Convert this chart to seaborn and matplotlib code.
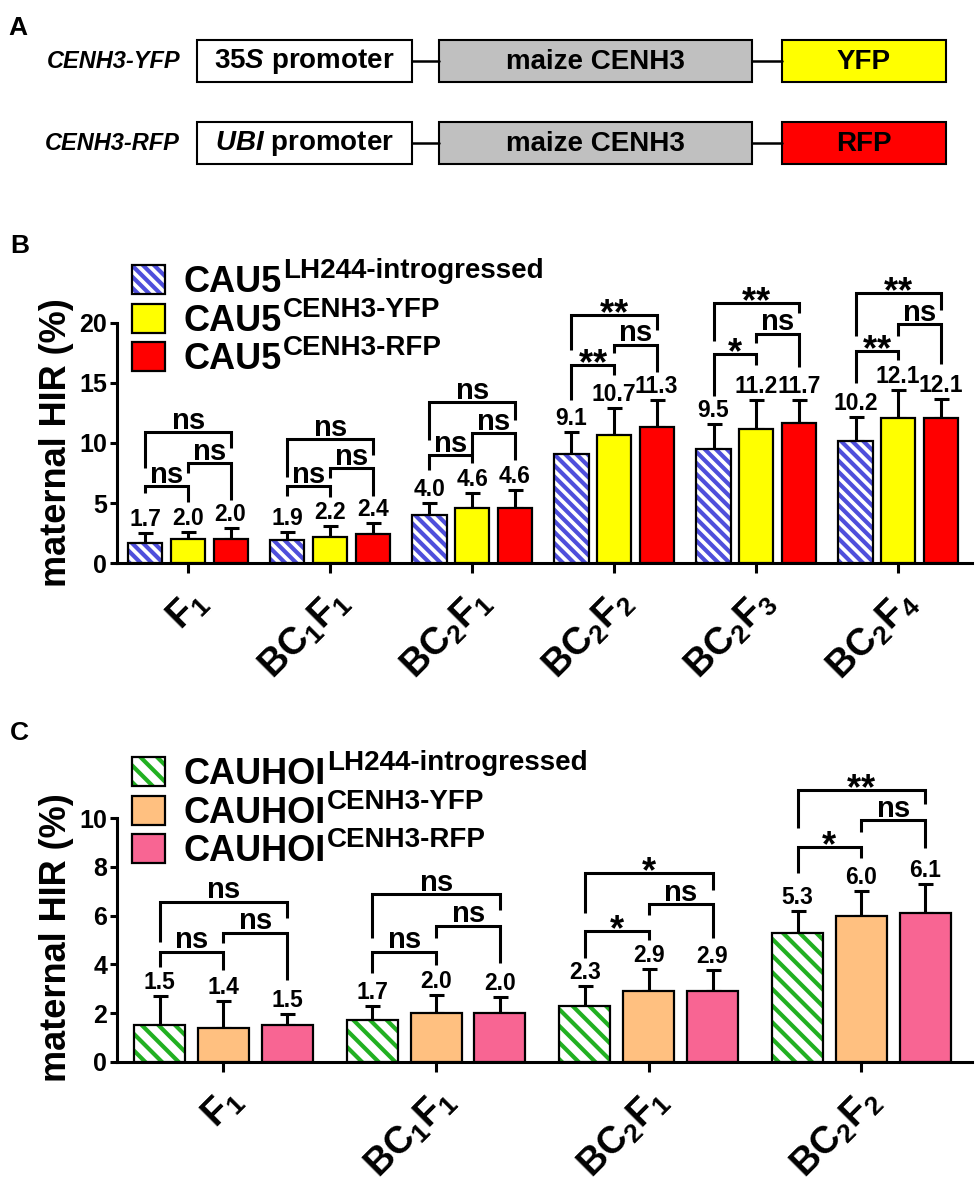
import numpy as np
import pandas as pd
import matplotlib
matplotlib.use('Agg')
import matplotlib.pyplot as plt
import seaborn as sns
from matplotlib.patches import Patch, Rectangle
from matplotlib.container import BarContainer
from matplotlib.legend_handler import HandlerTuple
from matplotlib.font_manager import FontProperties

sns.set_theme(style='ticks')
plt.rcParams['font.family'] = ['Liberation Sans', 'DejaVu Sans']
plt.rcParams['font.weight'] = 'bold'
plt.rcParams['text.color'] = 'black'
plt.rcParams['axes.labelcolor'] = 'black'
plt.rcParams['xtick.color'] = 'black'
plt.rcParams['ytick.color'] = 'black'
plt.rcParams['xtick.labelcolor'] = 'black'
plt.rcParams['ytick.labelcolor'] = 'black'
plt.rcParams['mathtext.fontset'] = 'custom'
plt.rcParams['mathtext.rm'] = 'Liberation Sans'
plt.rcParams['mathtext.bf'] = 'Liberation Sans:bold'
plt.rcParams['mathtext.it'] = 'Liberation Sans:italic:bold'
plt.rcParams['hatch.linewidth'] = 3.0

# ---------------- data ----------------
# Panel B
gens_B = ['F1', 'BC1F1', 'BC2F1', 'BC2F2', 'BC2F3', 'BC2F4']
ticks_B = [r'$\mathbf{F}_{1}$', r'$\mathbf{BC}_{1}\mathbf{F}_{1}$', r'$\mathbf{BC}_{2}\mathbf{F}_{1}$',
           r'$\mathbf{BC}_{2}\mathbf{F}_{2}$', r'$\mathbf{BC}_{2}\mathbf{F}_{3}$', r'$\mathbf{BC}_{2}\mathbf{F}_{4}$']
series_B = ['CAU5 LH244-introgressed', 'CAU5 CENH3-YFP', 'CAU5 CENH3-RFP']
legend_base_B = ['CAU5', 'CAU5', 'CAU5']
legend_sup_B = ['LH244-introgressed', 'CENH3-YFP', 'CENH3-RFP']
intro_B = [1.7, 1.9, 4.0, 9.1, 9.5, 10.2]
yfp_B = [2.0, 2.2, 4.6, 10.7, 11.2, 12.1]
rfp_B = [2.0, 2.4, 4.6, 11.3, 11.7, 12.1]
err_intro_B = [0.8, 0.7, 1.0, 1.8, 2.1, 2.0]
err_yfp_B = [0.6, 0.9, 1.2, 2.2, 2.4, 2.3]
err_rfp_B = [0.9, 0.9, 1.5, 2.3, 1.9, 1.6]
# significance: pairs (0-1), (1-2), (0-2)
sig_B = [['ns', 'ns', 'ns'], ['ns', 'ns', 'ns'], ['ns', 'ns', 'ns'],
         ['**', 'ns', '**'], ['*', 'ns', '**'], ['**', 'ns', '**']]
# bracket levels: (bar level, left leg end, right leg end)
brk_B = [[(6.4, 5.8, 5.1), (8.3, 7.5, 5.25), (10.9, 7.9, 9.6)],
         [(6.4, 5.6, 5.5), (7.9, 7.05, 5.6), (10.3, 7.2, 9.0)],
         [(9.0, 7.75, 8.3), (10.8, 9.1, 8.6), (13.4, 10.25, 11.9)],
         [(16.5, 13.6, 15.7), (18.2, 17.5, 15.9), (20.7, 17.75, 19.4)],
         [(17.4, 13.9, 16.5), (19.1, 18.3, 16.3), (21.7, 18.5, 20.8)],
         [(17.7, 15.0, 16.9), (19.9, 18.9, 16.6), (22.5, 18.9, 21.1)]]

# Panel C
gens_C = ['F1', 'BC1F1', 'BC2F1', 'BC2F2']
ticks_C = [r'$\mathbf{F}_{1}$', r'$\mathbf{BC}_{1}\mathbf{F}_{1}$', r'$\mathbf{BC}_{2}\mathbf{F}_{1}$',
           r'$\mathbf{BC}_{2}\mathbf{F}_{2}$']
series_C = ['CAUHOI LH244-introgressed', 'CAUHOI CENH3-YFP', 'CAUHOI CENH3-RFP']
legend_base_C = ['CAUHOI', 'CAUHOI', 'CAUHOI']
legend_sup_C = ['LH244-introgressed', 'CENH3-YFP', 'CENH3-RFP']
intro_C = [1.5, 1.7, 2.3, 5.3]
yfp_C = [1.4, 2.0, 2.9, 6.0]
rfp_C = [1.5, 2.0, 2.9, 6.1]
err_intro_C = [1.2, 0.6, 0.8, 0.9]
err_yfp_C = [1.1, 0.75, 0.9, 1.0]
err_rfp_C = [0.45, 0.65, 0.85, 1.2]
sig_C = [['ns', 'ns', 'ns'], ['ns', 'ns', 'ns'], ['*', 'ns', '*'], ['*', 'ns', '**']]
brk_C = [[(4.52, 3.9, 3.77), (5.3, 4.87, 3.36), (6.58, 4.93, 5.9)],
         [(4.52, 3.63, 3.97), (5.58, 5.07, 4.07), (6.88, 5.1, 6.23)],
         [(5.37, 4.25, 5.0), (6.47, 6.03, 5.1), (7.77, 6.1, 7.06)],
         [(8.84, 7.74, 8.36), (9.93, 9.45, 8.77), (11.17, 9.59, 10.6)]]

# Panel A
constructs = ['CENH3-YFP', 'CENH3-RFP']
promoters = [r'$\mathit{35S}$ promoter', r'$\mathit{UBI}$ promoter']
gene_label = 'maize CENH3'
tags = ['YFP', 'RFP']
tag_colors = ['#ffff00', '#ff0000']

W, H = 975, 1183
fig = plt.figure(figsize=(W / 100, H / 100), dpi=100)


def fx(px):
    return px / W


def fy(py):
    return 1 - py / H


def sig_text(lab):
    if lab == 'ns':
        return r'$\mathbf{ns}$'
    return '$' + ''.join(r'\mathbf{{*}}' for _ in lab) + '$'


# ---------------- Panel A ----------------
axA = fig.add_axes([0, fy(190), 1, 190 / H])
axA.set_xlim(0, W)
axA.set_ylim(190, 0)
axA.axis('off')
rows_y = [(40, 82), (122, 164)]
boxes_x = [(197, 412), (439, 752), (782, 946)]
for r, (y0, y1) in enumerate(rows_y):
    cols = ['white', '#c0c0c0', tag_colors[r]]
    texts = [promoters[r], gene_label, tags[r]]
    for b, (x0, x1) in enumerate(boxes_x):
        axA.add_patch(Rectangle((x0, y0), x1 - x0, y1 - y0, facecolor=cols[b],
                                edgecolor='black', lw=1.5))
        axA.text((x0 + x1) / 2, (y0 + y1) / 2 + 1, texts[b], ha='center', va='center',
                 fontsize=20, weight='bold', color='black')
    ym = (y0 + y1) / 2
    axA.plot([boxes_x[0][1], boxes_x[1][0]], [ym, ym], color='black', lw=1.8)
    axA.plot([boxes_x[1][1], boxes_x[2][0]], [ym, ym], color='black', lw=1.8)
    axA.text(180, ym + 1, constructs[r], ha='right', va='center', fontsize=17,
             weight='bold', style='italic', color='black')

fig.text(fx(8), fy(35), 'A', fontsize=19, weight='bold', va='baseline')
fig.text(fx(10), fy(253), 'B', fontsize=19, weight='bold', va='baseline')
fig.text(fx(10), fy(740), 'C', fontsize=19, weight='bold', va='baseline')


def draw_panel(ax, gens, ticks, series, means, errs, colors, hatch_color, hatch,
               sig, brk, ylim, yticks, leg_base, leg_sup, leg_top, ylabel_y):
    rows = []
    for s, vals in zip(series, means):
        for g, v in zip(gens, vals):
            rows.append({'gen': g, 'line': s, 'hir': v})
    df = pd.DataFrame(rows)
    sns.barplot(data=df, x='gen', y='hir', hue='line', order=gens, hue_order=series,
                palette=colors, errorbar=None, width=0.9, gap=0.2, edgecolor='black',
                linewidth=1.6, saturation=1, legend=False, ax=ax, zorder=3)
    conts = [c for c in ax.containers if isinstance(c, BarContainer)]
    centers = []
    for ci, cont in enumerate(conts):
        xs = [b.get_x() + b.get_width() / 2 for b in cont]
        centers.append(xs)
        tops = [b.get_height() for b in cont]
        ax.errorbar(xs, tops, yerr=[np.zeros(len(xs)), errs[ci]], fmt='none',
                    ecolor='black', elinewidth=2.2, capsize=5.4, capthick=2.2, zorder=2)
        for x, t, e in zip(xs, tops, errs[ci]):
            ax.annotate(f'{t:.1f}', xy=(x, t + e), xytext=(0, 1.5), textcoords='offset points',
                        ha='center', va='bottom', fontsize=16.5, weight='bold',
                        annotation_clip=False)
        if ci == 0:
            for b in cont:
                b.set_facecolor('white')
                b.set_edgecolor(hatch_color)
                b.set_hatch(hatch)
                b.set_linewidth(0)
                ax.add_patch(Rectangle(b.get_xy(), b.get_width(), b.get_height(), fill=False,
                                       edgecolor='black', lw=1.6, zorder=3.5))
    pairs = [(0, 1), (1, 2), (0, 2)]
    for gi in range(len(gens)):
        for pi, (i, j) in enumerate(pairs):
            h, lb, rb = brk[gi][pi]
            x1, x2 = centers[i][gi], centers[j][gi]
            ax.plot([x1, x1, x2, x2], [lb, h, h, rb], color='black', lw=2.2, clip_on=False,
                    solid_joinstyle='miter', solid_capstyle='butt', zorder=4)
            lab = sig[gi][pi]
            if lab == 'ns':
                ax.annotate(sig_text(lab), xy=((x1 + x2) / 2, h), xytext=(0, 2.5),
                            textcoords='offset points', ha='center', va='baseline',
                            fontsize=21, annotation_clip=False)
            else:
                ax.annotate(sig_text(lab), xy=((x1 + x2) / 2, h), xytext=(0, -6),
                            textcoords='offset points', ha='center', va='baseline',
                            fontsize=26, annotation_clip=False)
    ax.set_xlim(-0.5, len(gens) - 0.48)
    ax.set_ylim(*ylim)
    ax.set_yticks(yticks)
    ax.set_yticklabels([str(t) for t in yticks], fontsize=18, weight='bold')
    ax.set_xticks(range(len(gens)))
    ax.set_xticklabels(ticks, fontsize=27, rotation=45, ha='right', rotation_mode='anchor')
    ax.set_xlabel('')
    ax.set_ylabel('maternal HIR (%)', fontsize=26, weight='bold')
    ax.yaxis.set_label_coords(fx(74), fy(ylabel_y), transform=fig.transFigure)
    sns.despine(ax=ax)
    for sp in ['left', 'bottom']:
        ax.spines[sp].set_linewidth(2.2)
        ax.spines[sp].set_color('black')
    ax.tick_params(axis='y', length=5, width=2.2, color='black', labelcolor='black', pad=2)
    ax.tick_params(axis='x', length=7, width=2.2, color='black', labelcolor='black', pad=7)
    ax.set_facecolor('white')

    # legend
    handles = [(Patch(facecolor='white', edgecolor=hatch_color, hatch=hatch, lw=0),
                Patch(facecolor='none', edgecolor='black', lw=1.6))]
    handles += [Patch(facecolor=c, edgecolor='black', lw=1.6) for c in colors[1:]]
    leg = ax.legend(handles, leg_base, loc='upper left',
                    bbox_to_anchor=(fx(132), fy(leg_top)), bbox_transform=fig.transFigure,
                    frameon=False, prop=FontProperties(family='Liberation Sans', weight='bold', size=26),
                    handlelength=0.92, handleheight=0.86, handletextpad=0.5, labelspacing=0.1,
                    borderpad=0, borderaxespad=0, labelcolor='black',
                    handler_map={tuple: HandlerTuple(ndivide=1, pad=0)})
    leg.set_zorder(5)
    for t, sup in zip(leg.get_texts(), leg_sup):
        ax.annotate(sup, xy=(1, 1), xycoords=t, xytext=(1, 5), textcoords='offset points',
                    ha='left', va='top', fontsize=20, weight='bold', zorder=6,
                    annotation_clip=False)


axB = fig.add_axes([fx(117), fy(563), (972 - 117) / W, (563 - 323) / H])
draw_panel(axB, gens_B, ticks_B, series_B,
           [intro_B, yfp_B, rfp_B], [err_intro_B, err_yfp_B, err_rfp_B],
           ['white', '#ffff00', '#ff0000'], '#4f4fdb', '\\\\\\',
           sig_B, brk_B, (0, 20), [0, 5, 10, 15, 20],
           legend_base_B, legend_sup_B, 265, 443)

axC = fig.add_axes([fx(117), fy(1061.7), (972 - 117) / W, (1061.7 - 818.3) / H])
draw_panel(axC, gens_C, ticks_C, series_C,
           [intro_C, yfp_C, rfp_C], [err_intro_C, err_yfp_C, err_rfp_C],
           ['white', '#ffc080', '#f86593'], '#22b022', '\\\\',
           sig_C, brk_C, (0, 10), [0, 2, 4, 6, 8, 10],
           legend_base_C, legend_sup_C, 757, 938)

fig.savefig('out.png', dpi=100, facecolor='white')
